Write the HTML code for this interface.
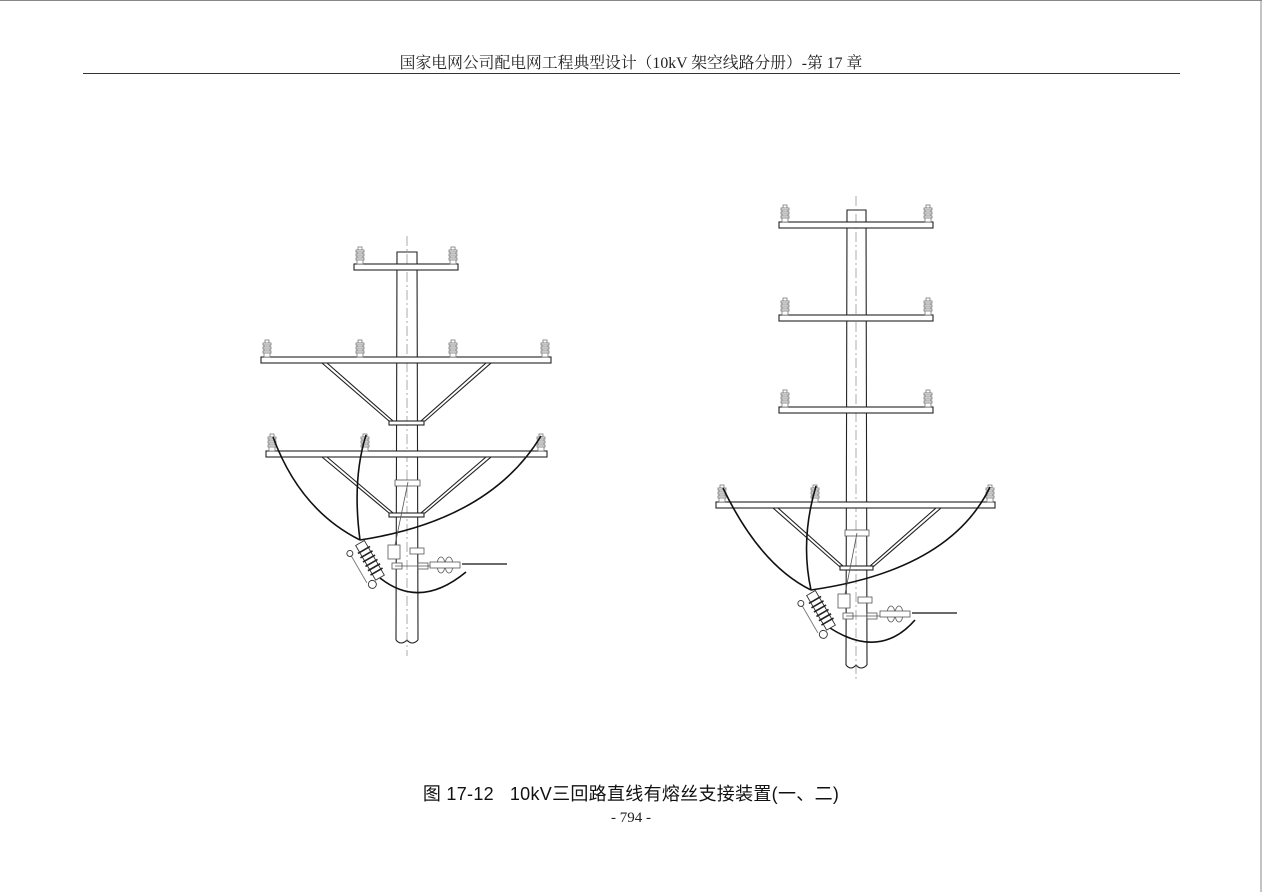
<!DOCTYPE html>
<html><head><meta charset="utf-8">
<style>
html,body{margin:0;padding:0;background:#fff;}
body{width:1262px;height:892px;position:relative;overflow:hidden;}
.hdr{position:absolute;left:0;width:1262px;top:50px;text-align:center;font:15.8px "Liberation Serif","Noto Serif CJK SC",serif;color:#222;}
.cap{position:absolute;left:0;width:1262px;top:780px;text-align:center;font:18px "Liberation Sans","Noto Sans CJK SC",sans-serif;color:#111;letter-spacing:0.3px;}
.pg{position:absolute;left:0;width:1262px;top:810px;text-align:center;font:15px "Liberation Serif",serif;color:#222;}
svg{position:absolute;left:0;top:0;}
</style></head><body>
<svg width="1262" height="892" viewBox="0 0 1262 892">
<defs>
<g id="ins" fill="#fff" stroke="#777" stroke-width="0.8">
<rect x="-2" y="-17" width="4" height="3"/>
<rect x="-4" y="-14" width="8" height="2"/>
<rect x="-3" y="-12" width="6" height="2"/>
<rect x="-4" y="-10" width="8" height="2"/>
<rect x="-3" y="-8" width="6" height="2"/>
<rect x="-4" y="-6" width="8" height="2"/>
<rect x="-3" y="-4" width="6" height="4"/>
</g>
<g id="fuse" stroke="#333" fill="#fff" stroke-width="0.9">
<g transform="rotate(-30)">
<rect x="-5" y="0" width="10" height="40" fill="#fff"/>
<g stroke="#222" stroke-width="1.6">
<line x1="-7" y1="8" x2="7" y2="8"/><line x1="-7" y1="13" x2="7" y2="13"/><line x1="-7" y1="18" x2="7" y2="18"/>
<line x1="-7" y1="23" x2="7" y2="23"/><line x1="-7" y1="28" x2="7" y2="28"/><line x1="-7" y1="33" x2="7" y2="33"/>
</g>
<line x1="-14" y1="4" x2="-14" y2="38" stroke="#777"/>
<circle cx="-14" cy="4" r="3"/><circle cx="-10" cy="42" r="4"/>
</g>
</g>
</defs>
<line x1="0" y1="0.5" x2="1262" y2="0.5" stroke="#888"/>
<line x1="1261" y1="0" x2="1261" y2="892" stroke="#888"/>
<line x1="83" y1="73.5" x2="1180" y2="73.5" stroke="#333"/>

<g stroke="#222" stroke-width="1.1" fill="#fff">
<path d="M396,640 L397,252 L417,252 L418,640"/>
<path d="M396,640 q5,6 11,0 q5,6 11,0" fill="none"/>
<line x1="407" y1="236" x2="407" y2="656" stroke="#888" stroke-width="0.7" stroke-dasharray="10,3,2,3"/>
<rect x="354" y="264" width="104" height="6"/>
<rect x="261" y="357" width="290" height="6"/>
<rect x="266" y="451" width="281" height="6"/>
<path d="M322,363 L389,421 L393,421 L327,363Z"/>
<path d="M486,363 L421,421 L425,421 L491,363Z"/>
<rect x="389" y="421" width="35" height="4"/>
<path d="M322,457 L389,513 L393,513 L327,457Z"/>
<path d="M486,457 L421,513 L425,513 L491,457Z"/>
<rect x="389" y="513" width="35" height="4"/>
</g>
<use href="#ins" x="360" y="264"/><use href="#ins" x="453" y="264"/>
<use href="#ins" x="267" y="357"/><use href="#ins" x="360" y="357"/><use href="#ins" x="453" y="357"/><use href="#ins" x="545" y="357"/>
<use href="#ins" x="272" y="451"/><use href="#ins" x="365" y="451"/><use href="#ins" x="541" y="451"/>
<g stroke="#111" stroke-width="1.6" fill="none">
<path d="M273,437 Q300,510 360,540"/>
<path d="M366,435 Q352,480 360,540"/>
<path d="M541,436 Q490,520 360,540"/>
<path d="M380,578 Q420,610 466,572"/>
</g>
<use href="#fuse" x="360" y="543"/>
<g stroke="#555" stroke-width="0.8" fill="#fff">
<rect x="395" y="480" width="25" height="6"/>
<rect x="388" y="545" width="12" height="14"/>
<rect x="410" y="548" width="14" height="6"/>
<rect x="392" y="563" width="10" height="6"/><rect x="418" y="563" width="10" height="6"/>
<line x1="395" y1="566" x2="430" y2="566"/>
<line x1="408" y1="482" x2="395" y2="545"/>
<ellipse cx="441" cy="565" rx="4" ry="8"/><ellipse cx="449" cy="565" rx="4" ry="8"/>
<rect x="430" y="562" width="30" height="6"/>
</g>
<line x1="462" y1="564" x2="507" y2="564" stroke="#111" stroke-width="1.2"/>

<g stroke="#222" stroke-width="1.1" fill="#fff">
<path d="M846,665 L847,210 L866,210 L867,665"/>
<path d="M846,665 q5,6 10,0 q5,6 11,0" fill="none"/>
<line x1="856" y1="196" x2="856" y2="682" stroke="#888" stroke-width="0.7" stroke-dasharray="10,3,2,3"/>
<rect x="779" y="222" width="154" height="6"/>
<rect x="779" y="315" width="154" height="6"/>
<rect x="779" y="407" width="154" height="6"/>
<rect x="716" y="502" width="279" height="6"/>
<path d="M773,508 L840,567 L844,567 L778,508Z"/>
<path d="M936,508 L869,567 L873,567 L941,508Z"/>
<rect x="840" y="566" width="33" height="4"/>
</g>
<use href="#ins" x="785" y="222"/><use href="#ins" x="928" y="222"/>
<use href="#ins" x="785" y="315"/><use href="#ins" x="928" y="315"/>
<use href="#ins" x="785" y="407"/><use href="#ins" x="928" y="407"/>
<use href="#ins" x="722" y="502"/><use href="#ins" x="815" y="502"/><use href="#ins" x="990" y="502"/>
<g stroke="#111" stroke-width="1.6" fill="none">
<path d="M723,488 Q760,565 811,590"/>
<path d="M816,486 Q800,540 811,590"/>
<path d="M990,487 Q950,570 811,590"/>
<path d="M830,628 Q880,660 915,620"/>
</g>
<use href="#fuse" x="811" y="593"/>
<g stroke="#555" stroke-width="0.8" fill="#fff">
<rect x="845" y="530" width="24" height="6"/>
<rect x="838" y="594" width="12" height="14"/>
<rect x="858" y="597" width="14" height="6"/>
<rect x="843" y="613" width="10" height="6"/><rect x="867" y="613" width="10" height="6"/>
<line x1="846" y1="616" x2="880" y2="616"/>
<line x1="857" y1="533" x2="845" y2="594"/>
<ellipse cx="891" cy="614" rx="4" ry="8"/><ellipse cx="899" cy="614" rx="4" ry="8"/>
<rect x="880" y="611" width="30" height="6"/>
</g>
<line x1="912" y1="613" x2="957" y2="613" stroke="#111" stroke-width="1.2"/>
</svg>
<div class="hdr">国家电网公司配电网工程典型设计（10kV 架空线路分册）-第 17 章</div>
<div class="cap">图 17-12&nbsp;&nbsp; 10kV三回路直线有熔丝支接装置(一、二)</div>
<div class="pg">- 794 -</div>
</body></html>
